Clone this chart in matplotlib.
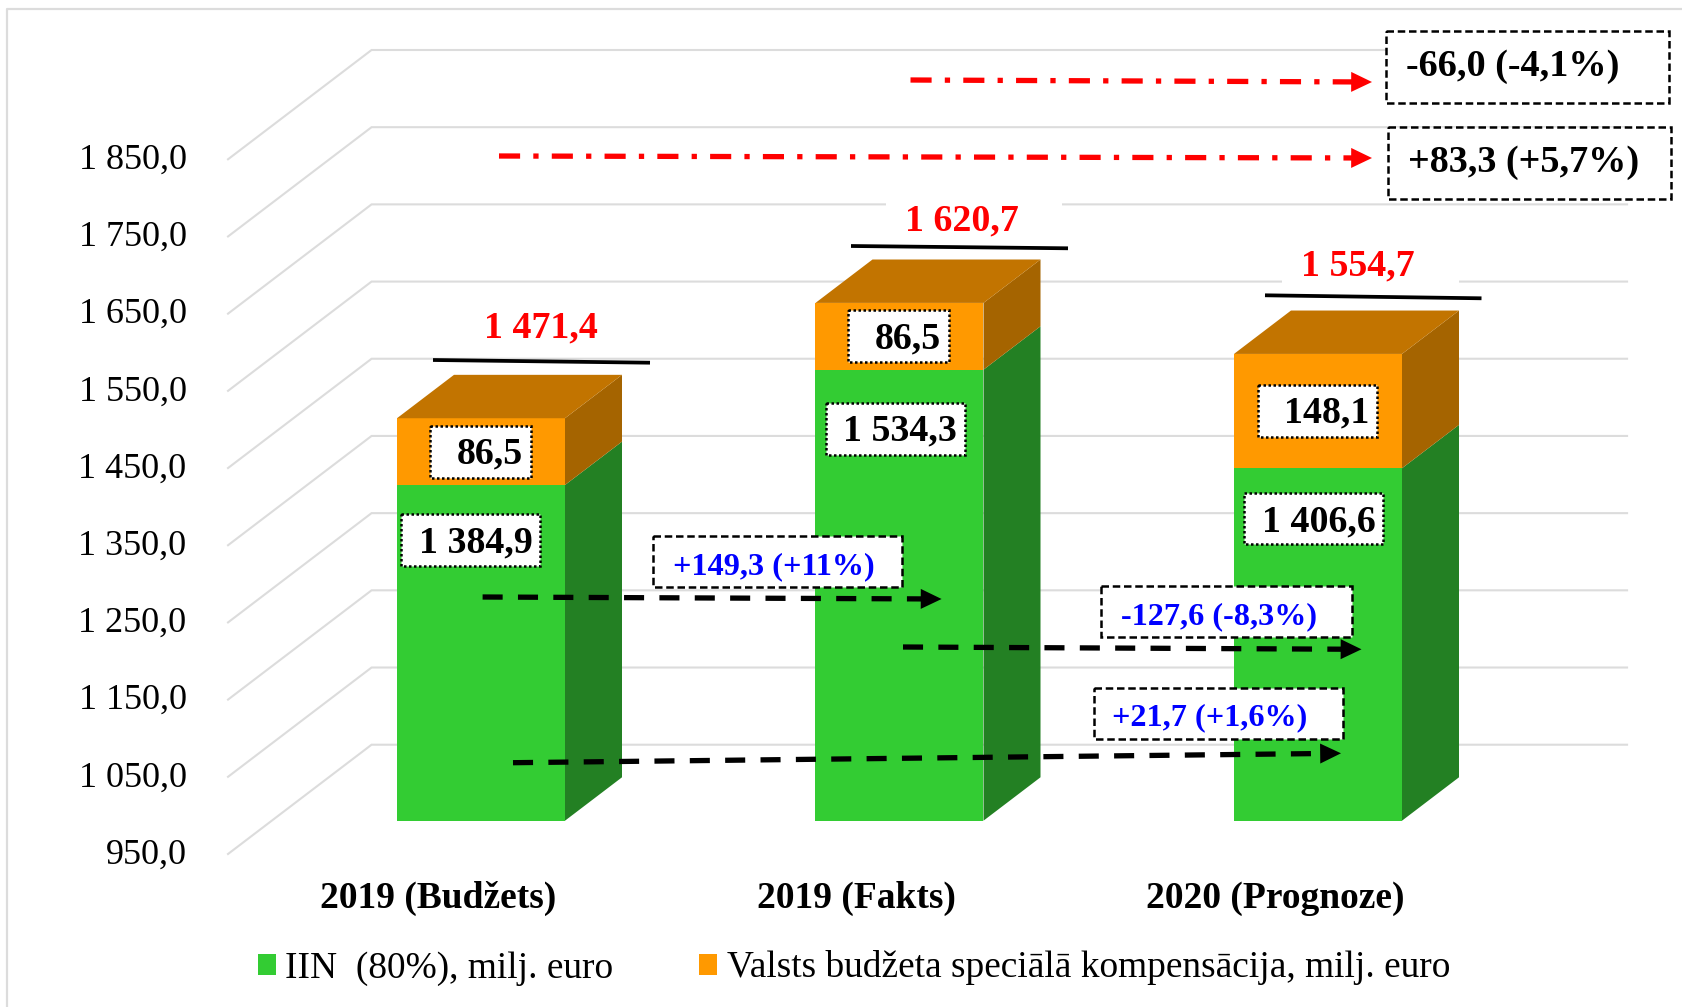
import matplotlib
matplotlib.use('Agg')
import matplotlib.pyplot as plt
from matplotlib.patches import Patch, Polygon, Rectangle

plt.rcParams['font.family'] = ['Liberation Serif', 'DejaVu Sans']

# Chart data
CATEGORIES = ['2019 (Budžets)', '2019 (Fakts)', '2020 (Prognoze)']
IIN = [1384.9, 1534.3, 1406.6]
COMPENSATION = [86.5, 86.5, 148.1]
TOTALS = [1471.4, 1620.7, 1554.7]
TICKS = [950, 1050, 1150, 1250, 1350, 1450, 1550, 1650, 1750, 1850]
TICK_LABELS = ['950,0', '1 050,0', '1 150,0', '1 250,0', '1 350,0',
               '1 450,0', '1 550,0', '1 650,0', '1 750,0', '1 850,0']
TOTAL_LABELS = ['1 471,4', '1 620,7', '1 554,7']
IIN_LABELS = ['1 384,9', '1 534,3', '1 406,6']
COMPENSATION_LABELS = ['86,5', '86,5', '148,1']
SERIES_NAMES = ['IIN  (80%), milj. euro', 'Valsts budžeta speciālā kompensācija, milj. euro']

# Figure size and the 3D look of the plot
W, H = 1683, 1007
BASE = 950
CAT_X0, CAT_STEP = 481, 418.5 # pixel x of the first category, pixels per category
PX_PER_UNIT = 0.7719 # pixels per one unit of value
BASE_Y = 820.7 # pixel y of the bars' base
BAR_W = 168 / CAT_STEP
DEPTH_X = 57 / CAT_STEP
DEPTH_Y = 43.4 / PX_PER_UNIT
GRID_FRONT = -0.767 # in bar depths, measured from the front of the bars
GRID_BACK = 1.751

GREEN, GREEN_SIDE = '#33cc33', '#238023'
ORANGE, ORANGE_SIDE, ORANGE_TOP = '#ff9900', '#a56400', '#c27400'
GRID = '#dcdcdc'

fig = plt.figure(figsize=(W / 100, H / 100), dpi=100)

# Axes in chart units, the whole figure
ax = fig.add_axes([0, 0, 1, 1])
ax.set_xlim(-CAT_X0 / CAT_STEP, (W - CAT_X0) / CAT_STEP)
ax.set_ylim(BASE + (BASE_Y - H) / PX_PER_UNIT, BASE + BASE_Y / PX_PER_UNIT)
ax.axis('off')

# Axes in pixels on top, for the hand placed callouts
ov = fig.add_axes([0, 0, 1, 1])
ov.set_xlim(0, W)
ov.set_ylim(H, 0)
ov.axis('off')
ov.patch.set_alpha(0)


def shift(x, v, d):
    return x + d * DEPTH_X, v + d * DEPTH_Y


# Frame of the picture
ov.plot([7.5, 7.5, W], [H, 8.5, 8.5], color=GRID, lw=1.6)

# Grid lines: floor and back wall
n = len(CATEGORIES)
for t, lab in zip(TICKS, TICK_LABELS):
    x0, y0 = shift(-0.5, t, GRID_FRONT)
    x1, y1 = shift(-0.5, t, GRID_BACK)
    x2, y2 = shift(n - 0.5, t, GRID_BACK)
    ax.plot([x0, x1, x2], [y0, y1, y2], color=GRID, lw=1.5, solid_joinstyle='miter', zorder=1)
    ax.text(x0 - 41.5 / CAT_STEP, y0 - 1 / PX_PER_UNIT, lab, ha='right', va='center', fontsize=26, zorder=5)

# Bars
for i in range(n):
    l, r = i - BAR_W / 2, i + BAR_W / 2
    mid, top = IIN[i], IIN[i] + COMPENSATION[i]
    ax.add_patch(Rectangle((l, BASE), BAR_W, mid - BASE, color=GREEN, lw=0, zorder=3))
    ax.add_patch(Rectangle((l, mid), BAR_W, top - mid, color=ORANGE, lw=0, zorder=3))
    ax.add_patch(Polygon([(r, BASE), shift(r, BASE, 1), shift(r, mid, 1), (r, mid)],
                         color=GREEN_SIDE, lw=0, zorder=3))
    ax.add_patch(Polygon([(r, mid), shift(r, mid, 1), shift(r, top, 1), (r, top)],
                         color=ORANGE_SIDE, lw=0, zorder=3))
    ax.add_patch(Polygon([(l, top), shift(l, top, 1), shift(r, top, 1), (r, top)],
                         color=ORANGE_TOP, lw=0, zorder=3))
    x, y = shift(i, BASE, GRID_FRONT)
    ax.text(x + 1 / CAT_STEP, y - 44.5 / PX_PER_UNIT, CATEGORIES[i], ha='center', va='center',
            fontsize=27, fontweight='bold', zorder=5)

# Totals over the bars: white gap in the grid, red number, black line
gaps = [None, (886, 200, 176, 40), (1282, 248, 177, 40)]
total_pos = [(541, 328), (962, 221), (1358, 266)]
total_lines = [(433, 360, 650, 362.7), (851, 246, 1068, 248.3), (1265, 295.3, 1481.5, 298.3)]
for i in range(n):
    if gaps[i]:
        gx, gy, gw, gh = gaps[i]
        ov.add_patch(Rectangle((gx, gy), gw, gh, color='white', lw=0, zorder=1))
    ov.text(total_pos[i][0], total_pos[i][1], TOTAL_LABELS[i], color='#ff0000', ha='center', va='center',
            fontsize=27.3, fontweight='bold', zorder=2)
    xa, ya, xb, yb = total_lines[i]
    ov.plot([xa, xb], [ya, yb], color='black', lw=2.7, solid_capstyle='butt', zorder=2)


def label_box(x0, x1, y0, y1, text, tx, ty, size, color='black', ls=(0, (1, 1))):
    ov.add_patch(Rectangle((x0, y0), x1 - x0, y1 - y0, fc='white', ec='black', lw=1.8, ls=ls, zorder=6))
    ov.text(tx, ty, text, color=color, ha='center', va='center', fontsize=size, fontweight='bold', zorder=7)


# Values inside the bars
label_box(430.5, 531.5, 425.7, 477.7, COMPENSATION_LABELS[0], 490, 453.5, 27.3)
label_box(401.5, 540, 514, 566, IIN_LABELS[0], 475.5, 542.5, 27.3)
label_box(848, 949, 310, 362.3, COMPENSATION_LABELS[1], 908, 338.5, 27.3)
label_box(826.5, 965, 402.7, 454.7, IIN_LABELS[1], 900, 431, 27.3)
label_box(1258, 1377, 384.7, 436.7, COMPENSATION_LABELS[2], 1326.5, 412.5, 27.3)
label_box(1244.5, 1383.5, 493.3, 544, IIN_LABELS[2], 1319, 522, 27.3)


def arrow(xa, ya, xb, yb, color, dash):
    # dashed shaft, then a solid head
    k = (xb - 12 - xa) / (xb - xa)
    ov.plot([xa, xa + k * (xb - xa)], [ya, ya + k * (yb - ya)], color=color, lw=3.8,
            ls=(0, dash), dash_capstyle='butt', zorder=4)
    ov.annotate('', xy=(xb, yb), xytext=(xb - 16, yb - 16 * (yb - ya) / (xb - xa)),
                arrowprops=dict(arrowstyle='-|>,head_length=1,head_width=0.48', color=color, lw=0,
                                shrinkA=0, shrinkB=0, mutation_scale=15), zorder=4)


# Change arrows and their captions
DASHDOT = (4, 2.5, 1, 2.5)
DASHED = (3.8, 2.9)
arrow(910.5, 80, 1372, 82, '#ff0000', DASHDOT)
arrow(499, 156, 1372, 158, '#ff0000', DASHDOT)
arrow(482.6, 597, 941.6, 599, 'black', DASHED)
arrow(903, 647, 1361.5, 649.3, 'black', DASHED)
arrow(513, 762.7, 1341, 753.3, 'black', DASHED)

BOX_LS = (0, (3, 1.5))
label_box(1386, 1669, 31, 103.3, '-66,0 (-4,1%)', 1512.5, 66, 27.5, ls=BOX_LS)
label_box(1388.5, 1671.5, 127, 198.7, '+83,3 (+5,7%)', 1523.5, 162, 27.5, ls=BOX_LS)
label_box(653.5, 902.5, 536.3, 586.7, '+149,3 (+11%)', 773.5, 566.5, 23.2, color='#0000ff', ls=BOX_LS)
label_box(1101.5, 1352.5, 585.7, 636.7, '-127,6 (-8,3%)', 1219, 617, 23.2, color='#0000ff', ls=BOX_LS)
label_box(1094.2, 1343.3, 688.3, 739.3, '+21,7 (+1,6%)', 1210, 718, 23.2, color='#0000ff', ls=BOX_LS)

# Legend
handles = [Patch(color=GREEN, lw=0), Patch(color=ORANGE, lw=0)]
ov.legend(handles, SERIES_NAMES, ncols=2, loc='center left', bbox_to_anchor=(258, 968), bbox_transform=ov.transData,
          frameon=False, fontsize=26.9, borderpad=0, borderaxespad=0, handlelength=0.48, handleheight=0.48,
          handletextpad=0.25, columnspacing=2.3)

fig.savefig('out.png', dpi=100)
